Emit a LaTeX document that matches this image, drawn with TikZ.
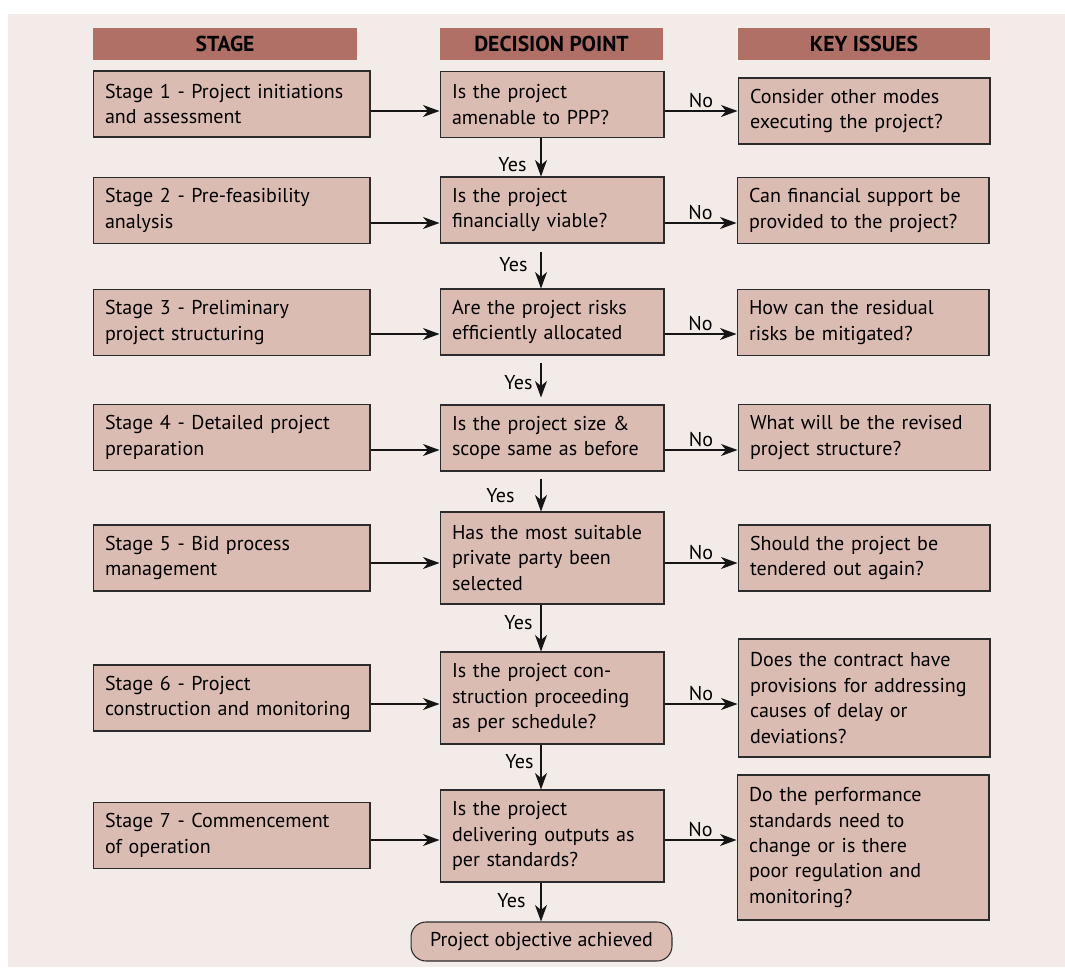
\documentclass[tikz,border=0pt]{standalone}
\usepackage{fontspec}
\setmainfont{PT Sans}
\usetikzlibrary{arrows.meta}
\definecolor{bgpink}{HTML}{F3EBE8}
\definecolor{headred}{HTML}{B07066}
\definecolor{boxpink}{HTML}{DBBCB2}
\definecolor{boxline}{HTML}{2B2B2B}
\definecolor{arrowline}{HTML}{151515}

\begin{document}
\begin{tikzpicture}[x=0.02cm, y=-0.02cm,
    every node/.style={font=\fontsize{11.4}{14.5}\selectfont, text=black},
    head/.style={fill=headred, font=\fontsize{12.3}{14.5}\selectfont\bfseries, minimum height=0.64cm, inner sep=0pt},
    box/.style={draw=boxline, line width=0.6pt, fill=boxpink, align=left, inner xsep=0.24cm, inner ysep=0pt, minimum height=1.32cm},
    stagebox/.style={box, text width=5.06cm},
    decbox/.style={box, text width=4.0cm},
    keybox/.style={box, text width=4.56cm},
    arr/.style={line width=0.6pt, draw=arrowline, -{Stealth[length=0.33cm, width=0.24cm, inset=0.1cm]}},
    yes/.style={left, inner sep=0pt},
    no/.style={above, inner sep=1.5pt}]
    % Background
    \useasboundingbox (0,0) rectangle (1065,967);
    \fill[bgpink] (8,14) rectangle (1065,967);

    % Column heads
    \node[head, minimum width=5.28cm] (hstage) at (225,44) {STAGE};
    \node[head, minimum width=4.46cm] (hdec) at (551.5,44) {DECISION POINT};
    \node[head, minimum width=5.04cm] (hkey) at (864,44) {KEY ISSUES};

    % Stages
    \node[stagebox] (s1) at (231.5,104) {Stage 1 - Project initiations\\and assessment};
    \node[stagebox] (s2) at (231.5,210.5) {Stage 2 - Pre-feasibility\\analysis};
    \node[stagebox] (s3) at (231.5,322.5) {Stage 3 - Preliminary\\project structuring};
    \node[stagebox] (s4) at (231.5,437.5) {Stage 4 - Detailed project\\preparation};
    \node[stagebox] (s5) at (231.5,558) {Stage 5 - Bid process\\management};
    \node[stagebox] (s6) at (231.5,698) {Stage 6 - Project\\construction and monitoring};
    \node[stagebox] (s7) at (231.5,835.5) {Stage 7 - Commencement\\of operation};

    % Decision points
    \node[decbox] (d1) at (552,104.5) {Is the project\\amenable to PPP?};
    \node[decbox] (d2) at (552,210) {Is the project\\financially viable?};
    \node[decbox] (d3) at (552,322) {Are the project risks\\efficiently allocated};
    \node[decbox] (d4) at (552,438) {Is the project size \&\\scope same as before};
    \node[decbox, minimum height=1.84cm] (d5) at (552,558) {Has the most suitable\\private party been\\selected};
    \node[decbox, minimum height=1.84cm] (d6) at (552,698) {Is the project con-\\struction proceeding\\as per schedule?};
    \node[decbox, minimum height=1.84cm] (d7) at (552,836) {Is the project\\delivering outputs as\\per standards?};

    % Key issues
    \node[keybox] (k1) at (864,111) {Consider other modes\\executing the project?};
    \node[keybox] (k2) at (863,210.5) {Can financial support be\\provided to the project?};
    \node[keybox] (k3) at (863,322.5) {How can the residual\\risks be mitigated?};
    \node[keybox] (k4) at (864,437.5) {What will be the revised\\project structure?};
    \node[keybox] (k5) at (864,558) {Should the project be\\tendered out again?};
    \node[keybox, minimum height=2.36cm] (k6) at (864,698) {Does the contract have\\provisions for addressing\\causes of delay or\\deviations?};
    \node[keybox, minimum height=2.9cm] (k7) at (863,847.5) {Do the performance\\standards need to\\change or is there\\poor regulation and\\monitoring?};

    % Outcome
    \node[box, align=center, rounded corners=0.3cm, minimum width=5.22cm, minimum height=0.78cm] (done) at (541.5,941.5) {Project objective achieved};

    % Rows of arrows
    \coordinate (r1) at (0,111);
    \coordinate (r2) at (0,223);
    \coordinate (r3) at (0,334);
    \coordinate (r4) at (0,450);
    \coordinate (r5) at (0,563);
    \coordinate (r6) at (0,704);
    \coordinate (r7) at (0,840);
    \coordinate (yx) at (541,0);
    \foreach \i in {1,...,7} {
        \draw[arr] (s\i.east |- r\i) -- (d\i.west |- r\i);
        \draw[arr] (d\i.east |- r\i) -- (k\i.west |- r\i) node[no, midway] (no\i) {No};
    }

    % Yes arrows
    \draw[arr] (d1.south -| yx) -- (d2.north -| yx) node[yes, pos=0.7, xshift=-0.28cm] (y1) {Yes};
    \draw[arr, shorten <=0.16cm] (d2.south -| yx) -- (d3.north -| yx) node[yes, pos=0.48, xshift=-0.26cm] (y2) {Yes};
    \draw[arr, shorten <=0.14cm, shorten >=0.14cm] (d3.south -| yx) -- (d4.north -| yx) node[yes, pos=0.56, xshift=-0.16cm] (y3) {Yes};
    \draw[arr, shorten <=0.14cm] (d4.south -| yx) -- (d5.north -| yx) node[yes, pos=0.61, xshift=-0.52cm] (y4) {Yes};
    \draw[arr] (d5.south -| yx) -- (d6.north -| yx) node[yes, pos=0.375, xshift=-0.16cm] (y5) {Yes};
    \draw[arr] (d6.south -| yx) -- (d7.north -| yx) node[yes, pos=0.37, xshift=-0.14cm] (y6) {Yes};
    \draw[arr] (d7.south -| yx) -- (done.north -| yx) node[yes, pos=0.475, xshift=-0.3cm] (y7) {Yes};
\end{tikzpicture}
\end{document}
